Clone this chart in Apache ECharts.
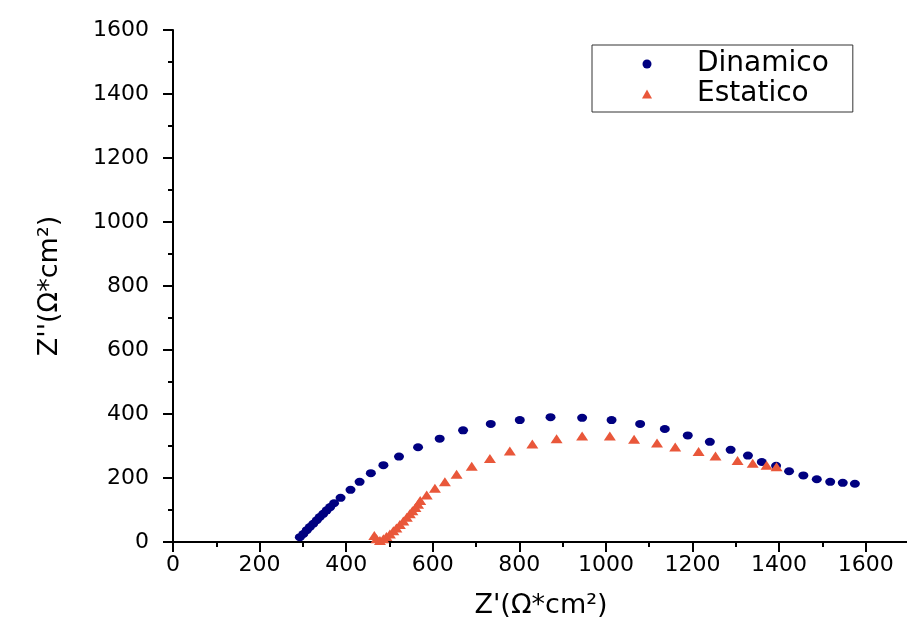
<!DOCTYPE html>
<html>
<head>
<meta charset="utf-8">
<script src="https://cdn.jsdelivr.net/npm/echarts@6/dist/echarts.min.js"></script>
<style>
html,body{margin:0;padding:0;background:#fff;}
#chart{width:907px;height:622px;}
</style>
</head>
<body>
<div id="chart"></div>
<script>
// Dinamico: [Z', Z'']
const dinamicoX = [293,301,309,316,324,332,339,347,355,363,372,387,410,431,457,486,522,566,616,670,734,801,872,945,1013,1079,1136,1189,1240,1288,1328,1360,1393,1423,1456,1487,1518,1547,1575];
const dinamicoY = [15,25,37,47,57,68,78,88,99,109,121,138,163,188,215,240,267,296,323,349,369,381,390,388,381,369,353,333,313,288,270,250,238,221,208,196,188,185,182];
// Estatico: [Z', Z'']
const estaticoX = [465,470,478,486,493,501,509,516,524,532,540,547,553,560,566,571,586,605,628,655,690,732,778,830,886,945,1009,1065,1118,1160,1214,1253,1304,1339,1371,1394];
const estaticoY = [20,10,5,10,17,25,35,44,55,66,77,88,98,108,118,130,147,168,188,212,237,261,284,306,323,331,331,321,309,297,283,269,255,246,240,235];
const seriesNames = ['Dinamico','Estatico'];
const xTickLabels = [0,200,400,600,800,1000,1200,1400,1600];
const yTickLabels = [0,200,400,600,800,1000,1200,1400,1600];

const zip = (a,b) => a.map((v,i)=>[v,b[i]]);
const font = 'DejaVu Sans';
const chart = echarts.init(document.getElementById('chart'));
chart.setOption({
  backgroundColor:'#ffffff',
  animation:false,
  grid:{left:173,right:-2,top:30,bottom:80,outerBoundsMode:'none'},
  legend:{
    orient:'vertical', left:592, top:45,
    borderColor:'#333', borderWidth:1,
    padding:[5,24,4,50], itemGap:2,
    itemWidth:10, itemHeight:9,
    textStyle:{fontFamily:font,fontSize:28,color:'#000',padding:[0,0,0,40]},
    data:seriesNames
  },
  xAxis:{
    type:'value', min:0, max:1700, interval:200,
    name:"Z'(Ω*cm²)", nameLocation:'middle', nameGap:50,
    nameTextStyle:{fontFamily:font,fontSize:27,color:'#000'},
    axisLine:{show:true,lineStyle:{color:'#000',width:2}},
    axisTick:{show:true,length:10,lineStyle:{color:'#000',width:2}},
    minorTick:{show:true,splitNumber:2,length:5,lineStyle:{color:'#000',width:2}},
    axisLabel:{fontFamily:font,fontSize:22,color:'#000',margin:12,
      formatter:v=> xTickLabels.indexOf(v)>=0 ? String(v) : ''},
    splitLine:{show:false}
  },
  yAxis:{
    type:'value', min:0, max:1600, interval:200,
    name:"Z''(Ω*cm²)", nameLocation:'middle', nameGap:110, nameRotate:90,
    nameTextStyle:{fontFamily:font,fontSize:27,color:'#000'},
    axisLine:{show:true,lineStyle:{color:'#000',width:2}},
    axisTick:{show:true,length:10,lineStyle:{color:'#000',width:2}},
    minorTick:{show:true,splitNumber:2,length:5,lineStyle:{color:'#000',width:2}},
    axisLabel:{fontFamily:font,fontSize:22,color:'#000',margin:24,
      formatter:v=> yTickLabels.indexOf(v)>=0 ? String(v) : ''},
    splitLine:{show:false}
  },
  series:[
    {name:seriesNames[0], type:'scatter', symbol:'circle', symbolSize:[10,8],
     itemStyle:{color:'#000080',opacity:1}, data:zip(dinamicoX,dinamicoY)},
    {name:seriesNames[1], type:'scatter', symbol:'triangle', symbolSize:[12,9],
     itemStyle:{color:'#e9573a',opacity:1}, data:zip(estaticoX,estaticoY)}
  ]
});
</script>
</body>
</html>
